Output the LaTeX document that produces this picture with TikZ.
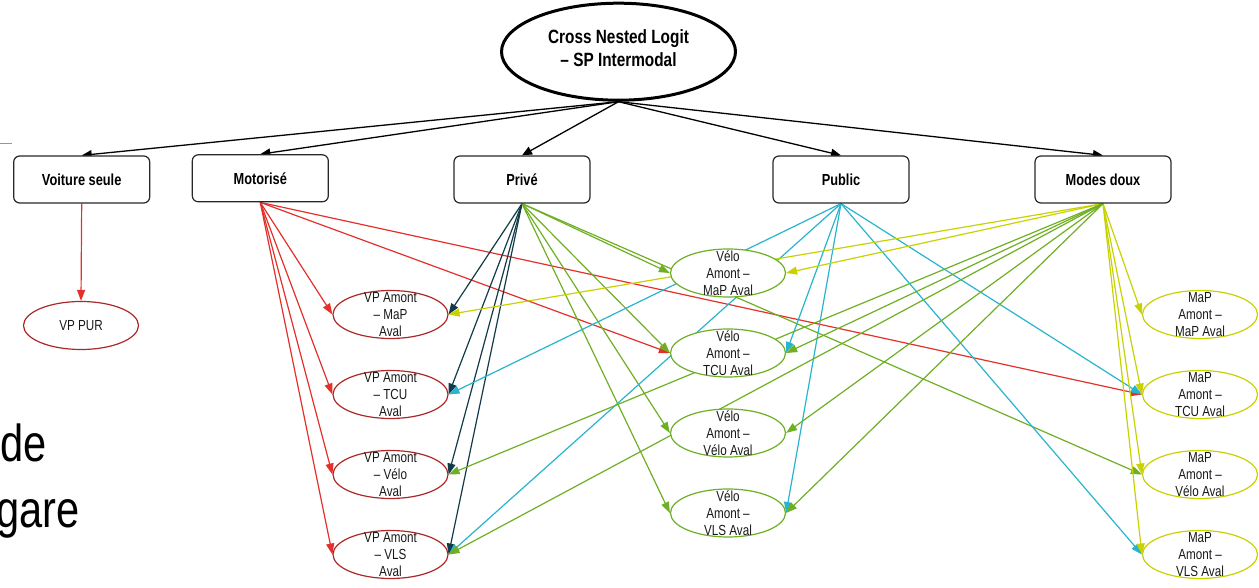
\documentclass[tikz,border=0pt]{standalone}
\usepackage{fontspec}
\setmainfont[FakeStretch=0.8]{Liberation Sans}
\usetikzlibrary{arrows.meta,shapes.geometric,backgrounds}
\definecolor{cred}{RGB}{228,48,42}
\definecolor{cdred}{RGB}{170,40,40}
\definecolor{cteal}{RGB}{18,58,72}
\definecolor{cgreen}{RGB}{110,175,35}
\definecolor{ccyan}{RGB}{40,180,205}
\definecolor{cyel}{RGB}{200,210,0}
\definecolor{cbox}{RGB}{40,40,40}
\definecolor{ctext}{RGB}{25,25,25}
\definecolor{cgray}{RGB}{150,150,150}
\begin{document}
\begin{tikzpicture}[x=1pt,y=-1pt,
  box/.style={draw=cbox, line width=1.2pt, rounded corners=6pt, fill=white,
    minimum width=136pt, minimum height=47pt, inner sep=0pt,
    font=\fontsize{16}{19}\selectfont\bfseries},
  ell/.style={ellipse, line width=1.2pt, fill=white, minimum width=115pt,
    minimum height=48pt, inner sep=0pt},
  etxt/.style={align=center, inner sep=0pt, text=ctext,
    font=\fontsize{14.6}{16.8}\selectfont},
  topell/.style={ellipse, draw=black, line width=3pt, fill=white,
    minimum width=234pt, minimum height=97pt, inner sep=0pt},
  toptxt/.style={align=center, inner sep=0pt,
    font=\fontsize{19.2}{23}\selectfont\bfseries},
  blk/.style={-{Triangle[length=10pt,width=8.5pt]}, line width=1.3pt, black},
  arr/.style={-{Triangle[length=11pt,width=8pt]}, line width=1.2pt},
  bigtxt/.style={anchor=base east, inner sep=0pt, text=black,
    font=\fontsize{52}{60}\selectfont},
]
\useasboundingbox (0,0) rectangle (1259,588);

% background slide text
\begin{scope}
\clip (0,0) rectangle (1259,588);
\node[bigtxt] (de) at (46.5,461.5) {de};
\node[bigtxt] (gare) at (79.5,527) {gare};
\draw[cgray, line width=1.5pt] (0,143.3) -- (12,143.3);
\end{scope}

% top
\node[topell, label={[toptxt,yshift=4pt]center:{Cross Nested Logit\\– SP Intermodal}}] (cnl) at (618.5,51.7) {};

% boxes
\node[box] (vs) at (81.7,179.5) {Voiture seule};
\node[box] (mot) at (260.3,178.3) {Motorisé};
\node[box] (priv) at (522,179.5) {Privé};
\node[box] (pub) at (841,179.5) {Public};
\node[box] (md) at (1103,179.5) {Modes doux};

% VP column
\node[ell, draw=cdred, label={[etxt]center:VP PUR}] (vppur) at (81,325.5) {};
\node[ell, draw=cdred, label={[etxt]center:{VP Amont\\– MaP\\Aval}}] (vp1) at (390.5,314.5) {};
\node[ell, draw=cdred, label={[etxt]center:{VP Amont\\– TCU\\Aval}}] (vp2) at (390.5,394.5) {};
\node[ell, draw=cdred, label={[etxt]center:{VP Amont\\– Vélo\\Aval}}] (vp3) at (390.5,474.5) {};
\node[ell, draw=cdred, label={[etxt]center:{VP Amont\\– VLS\\Aval}}] (vp4) at (390.5,554.5) {};

% Velo column
\node[ell, draw=cgreen, label={[etxt]center:{Vélo\\Amont –\\MaP Aval}}] (ve1) at (728,273) {};
\node[ell, draw=cgreen, label={[etxt]center:{Vélo\\Amont –\\TCU Aval}}] (ve2) at (728,353) {};
\node[ell, draw=cgreen, label={[etxt]center:{Vélo\\Amont –\\Vélo Aval}}] (ve3) at (728,433) {};
\node[ell, draw=cgreen, label={[etxt]center:{Vélo\\Amont –\\VLS Aval}}] (ve4) at (728,513) {};

% MaP column
\node[ell, draw=cyel, label={[etxt]center:{MaP\\Amont –\\MaP Aval}}] (mp1) at (1200,314.5) {};
\node[ell, draw=cyel, label={[etxt]center:{MaP\\Amont –\\TCU Aval}}] (mp2) at (1200,394.5) {};
\node[ell, draw=cyel, label={[etxt]center:{MaP\\Amont –\\Vélo Aval}}] (mp3) at (1200,474.5) {};
\node[ell, draw=cyel, label={[etxt]center:{MaP\\Amont –\\VLS Aval}}] (mp4) at (1200,554.5) {};

\begin{scope}[on background layer]
\foreach \tg in {vs,mot,priv,pub,md} \draw[blk] (cnl.south) -- (\tg.north);
\draw[arr,cred] (vs.south) -- (vppur.north);
\foreach \tg/\an in {vp1/west,vp2/west,vp3/west,vp4/west,ve2/west,mp2/west}
  \draw[arr,cred] (mot.south) -- (\tg.\an);
\foreach \tg in {vp1,vp2,vp3,vp4}
  \draw[arr,cteal] (priv.south) -- (\tg.east);
\foreach \tg in {ve1,ve2,ve3,ve4,mp3}
  \draw[arr,cgreen] (priv.south) -- (\tg.west);
\foreach \tg/\an in {vp2/east,vp4/east,ve2/east,ve4/east,mp2/west,mp4/west}
  \draw[arr,ccyan] (pub.south) -- (\tg.\an);
\foreach \tg/\an in {vp1/east,ve1/east,mp1/west,mp2/west,mp3/west,mp4/west}
  \draw[arr,cyel] (md.south) -- (\tg.\an);
\foreach \tg in {vp3,vp4,ve2,ve3,ve4}
  \draw[arr,cgreen] (md.south) -- (\tg.east);
\end{scope}
\end{tikzpicture}
\end{document}
